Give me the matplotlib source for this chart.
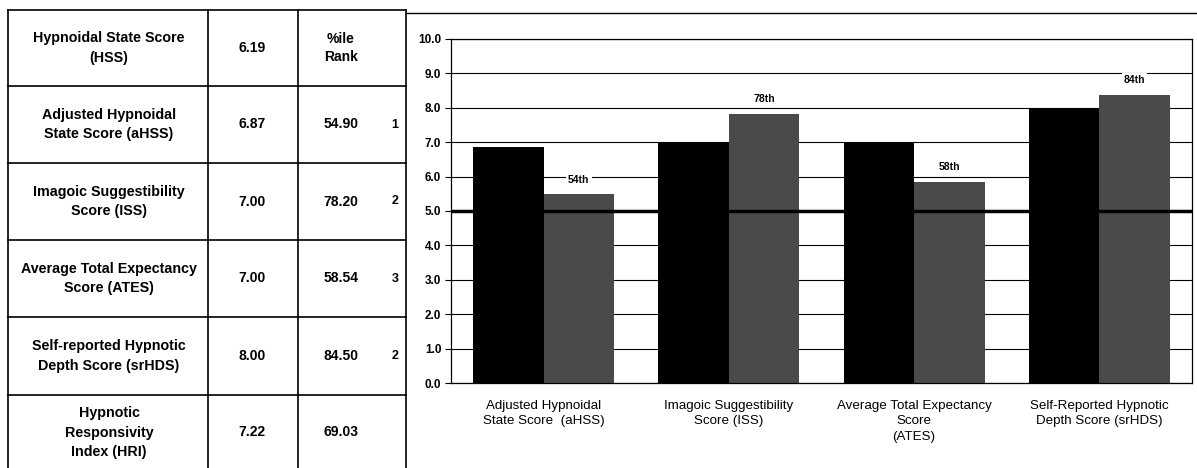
import matplotlib.pyplot as plt
import numpy as np

plt.rcParams['font.family'] = ['Liberation Sans', 'DejaVu Sans']

# Table data
row_labels = ["Hypnoidal State Score\n(HSS)",
              "Adjusted Hypnoidal\nState Score (aHSS)",
              "Imagoic Suggestibility\nScore (ISS)",
              "Average Total Expectancy\nScore (ATES)",
              "Self-reported Hypnotic\nDepth Score (srHDS)",
              "Hypnotic\nResponsivity\nIndex (HRI)"]
row_scores = ["6.19", "6.87", "7.00", "7.00", "8.00", "7.22"]
row_pct = ["%ile\nRank", "54.90", "78.20", "58.54", "84.50", "69.03"]
row_rank = ["", "1", "2", "3", "2", ""]

# Chart data
categories = ["Adjusted Hypnoidal\nState Score  (aHSS)",
              "Imagoic Suggestibility\nScore (ISS)",
              "Average Total Expectancy\nScore\n(ATES)",
              "Self-Reported Hypnotic\nDepth Score (srHDS)"]
scores = [6.87, 7.00, 7.00, 8.00]
percentiles = [5.49, 7.82, 5.85, 8.38]
pct_labels = ["54th", "78th", "58th", "84th"]
reference_line = 5.0

W, H = 1197, 468
fig = plt.figure(figsize=(W / 100, H / 100), dpi=100)

# overlay in pixel coordinates for the table and frame
bg = fig.add_axes([0, 0, 1, 1])
bg.set_xlim(0, W)
bg.set_ylim(H, 0)
bg.axis("off")

col_x = [8, 208, 298, 406]
row_y = [10, 86, 163, 240, 317, 395, 470]
for x in col_x:
    bg.plot([x, x], [row_y[0], row_y[-1]], color="black", lw=1.2)
for y in row_y[:-1]:
    bg.plot([col_x[0], col_x[-1]], [y, y], color="black", lw=1.2)
# chart outer frame top
bg.plot([406, W], [13, 13], color="black", lw=1.0)

for i in range(len(row_labels)):
    yc = (row_y[i] + row_y[i + 1]) / 2
    bg.text(109, yc, row_labels[i], ha="center", va="center", fontsize=10.3,
            fontweight="bold", linespacing=1.5)
    bg.text(252, yc, row_scores[i], ha="center", va="center", fontsize=10,
            fontweight="bold")
    bg.text(341, yc, row_pct[i], ha="center", va="center", fontsize=10,
            fontweight="bold", linespacing=1.4)
    if row_rank[i]:
        bg.text(395, yc, row_rank[i], ha="center", va="center", fontsize=9,
                fontweight="bold")

# bar chart
ax = fig.add_axes([451 / W, 1 - 383 / H, (1192 - 451) / W, (383 - 39) / H])
x = np.arange(len(categories)) + 0.5
w = 0.38
ax.bar(x - w / 2, scores, width=w, color="black", zorder=2)
ax.bar(x + w / 2, percentiles, width=w, color="#4a4a4a", zorder=2)
ax.axhline(reference_line, color="black", lw=2.5, zorder=3)
for xi, v, lab in zip(x, percentiles, pct_labels):
    ax.text(xi + w / 2, v + 0.28, lab, ha="center", va="bottom", fontsize=7.5,
            fontweight="bold", zorder=4,
            bbox=dict(facecolor="white", edgecolor="none", pad=1.5))

ax.set_xlim(0, len(categories))
ax.set_ylim(0, 10)
ax.set_yticks(np.arange(0, 10.5, 1.0))
ax.set_yticklabels([f"{v:.1f}" for v in np.arange(0, 10.5, 1.0)],
                   fontsize=8.5, fontweight="bold")
ax.grid(axis="y", color="black", lw=0.8, zorder=1)
ax.set_axisbelow(True)
ax.set_xticks(x)
ax.set_xticklabels(categories, fontsize=9.6, linespacing=1.4)
ax.tick_params(axis="x", length=0, pad=12)
ax.tick_params(axis="y", length=4, width=0.8, pad=3)
for s in ax.spines.values():
    s.set_linewidth(0.9)

fig.savefig("out.png", dpi=100)
